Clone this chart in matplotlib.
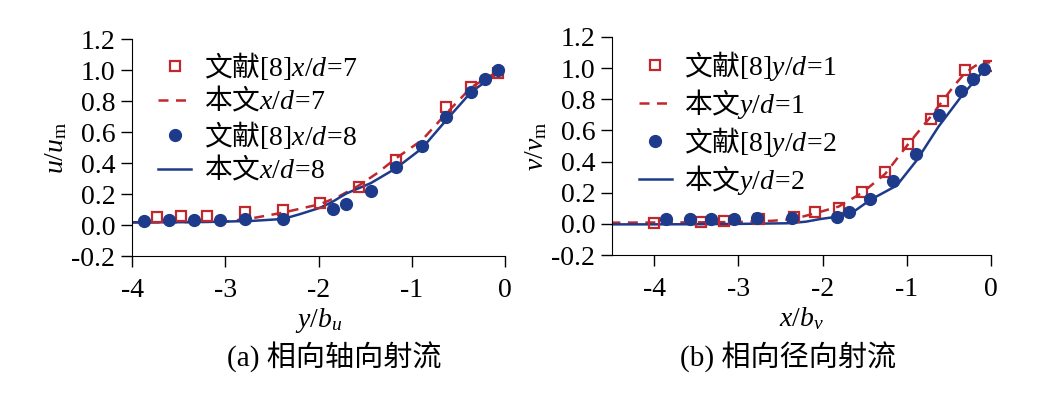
import matplotlib

matplotlib.use("Agg")
import matplotlib.pyplot as plt
from matplotlib.lines import Line2D

plt.rcParams["font.family"] = ["Liberation Serif", "Noto Sans CJK SC"]
plt.rcParams["mathtext.fontset"] = "custom"
plt.rcParams["mathtext.rm"] = "Liberation Serif"
plt.rcParams["mathtext.it"] = "Liberation Serif:italic"
plt.rcParams["axes.unicode_minus"] = False

RED = "#c1272d"
BLUE = "#1e3a8a"

# (a) axial jets
a_ref7_x = [-3.73, -3.47, -3.2, -2.79, -2.38, -1.98, -1.57, -1.17, -0.63, -0.36, -0.08]
a_ref7_y = [0.054, 0.058, 0.058, 0.086, 0.097, 0.14, 0.247, 0.419, 0.759, 0.888, 0.983]
a_ref8_x = [-3.87, -3.6, -3.33, -3.06, -2.79, -2.38, -1.84, -1.70, -1.44, -1.17, -0.89,
            -0.63, -0.36, -0.22, -0.08]
a_ref8_y = [0.028, 0.03, 0.03, 0.03, 0.039, 0.039, 0.103, 0.135, 0.217, 0.376, 0.512,
            0.699, 0.86, 0.94, 1.0]
a_sim7_x = [-4.0, -3.5, -3.0, -2.7, -2.38, -2.2, -1.98, -1.78, -1.57, -1.37, -1.17,
            -0.89, -0.63, -0.36, -0.08]
a_sim7_y = [0.017, 0.018, 0.022, 0.045, 0.08, 0.105, 0.135, 0.185, 0.254, 0.335, 0.43,
            0.548, 0.72, 0.89, 0.99]
a_sim8_x = [-4.0, -3.5, -3.06, -2.7, -2.38, -2.2, -1.98, -1.85, -1.70, -1.44, -1.17,
            -0.89, -0.63, -0.36, -0.08]
a_sim8_y = [0.017, 0.018, 0.021, 0.027, 0.039, 0.07, 0.112, 0.15, 0.204, 0.27, 0.366,
            0.495, 0.677, 0.86, 0.98]

# (b) radial jets
b_ref1_x = [-4.0, -3.44, -3.17, -2.75, -2.345, -2.09, -1.81, -1.53, -1.257, -0.99, -0.714,
            -0.57, -0.31, -0.03]
b_ref1_y = [0.004, 0.01, 0.021, 0.031, 0.046, 0.079, 0.1, 0.203, 0.332, 0.514, 0.673,
            0.79, 0.986, 1.011]
b_ref2_x = [-3.86, -3.58, -3.32, -3.05, -2.78, -2.365, -1.83, -1.69, -1.435, -1.16, -0.89,
            -0.623, -0.354, -0.215, -0.08]
b_ref2_y = [0.029, 0.031, 0.031, 0.031, 0.038, 0.04, 0.042, 0.074, 0.158, 0.276, 0.45,
            0.696, 0.855, 0.932, 0.996]
b_sim1_x = [-4.52, -4.0, -3.5, -3.0, -2.6, -2.345, -2.09, -1.81, -1.53, -1.257, -0.99,
            -0.714, -0.445, -0.31, -0.2, -0.128, -0.01]
b_sim1_y = [0.008, 0.009, 0.01, 0.012, 0.02, 0.031, 0.068, 0.111, 0.2, 0.321, 0.508,
            0.69, 0.883, 0.968, 1.01, 1.033, 1.037]
b_sim2_x = [-4.52, -4.0, -3.5, -3.0, -2.42, -2.2, -2.03, -1.83, -1.63, -1.435, -1.12,
            -0.88, -0.623, -0.354, -0.08]
b_sim2_y = [-0.003, -0.003, -0.002, 0.0, 0.004, 0.014, 0.031, 0.046, 0.079, 0.154, 0.246,
            0.41, 0.625, 0.818, 0.99]

FS = 20
CJK = ["Noto Sans CJK SC"]

fig = plt.figure(figsize=(10.37, 3.93), dpi=100)
ax1 = fig.add_axes([0.1273, 0.3486, 0.3597, 0.552])
ax2 = fig.add_axes([0.5902, 0.351, 0.3655, 0.555])


def style(ax, xlim, xticks):
    ax.set_xlim(*xlim)
    ax.set_ylim(-0.2, 1.2)
    ax.set_xticks(xticks)
    ax.set_xticklabels([str(t) for t in xticks])
    ax.set_yticks([-0.2, 0.0, 0.2, 0.4, 0.6, 0.8, 1.0, 1.2])
    ax.set_yticklabels(["-0.2", "0.0", "0.2", "0.4", "0.6", "0.8", "1.0", "1.2"])
    for s in ("top", "right"):
        ax.spines[s].set_visible(False)
    ax.spines["left"].set_bounds(-0.2, 1.2)
    ax.spines["bottom"].set_bounds(*xlim)
    ax.tick_params(labelsize=FS, length=8, width=1.0, direction="out", pad=4)
    ax.tick_params(axis="x", pad=8)


def draw(ax, sx1, sy1, sx2, sy2, rx1, ry1, rx2, ry2):
    ax.plot(sx1, sy1, "--", color=RED, lw=1.8, dashes=(4, 3))
    ax.plot(sx2, sy2, "-", color=BLUE, lw=1.8)
    ax.plot(rx1, ry1, "s", mfc="none", mec=RED, mew=1.6, ms=7.5)
    ax.plot(rx2, ry2, "o", color=BLUE, ms=8.5)


def legend(ax, var, n1, n2, anchor, spacing):
    handles = [
        Line2D([], [], ls="none", marker="s", mfc="none", mec=RED, mew=1.6, ms=7.5),
        Line2D([], [], ls="--", color=RED, lw=1.8, dashes=(4, 3)),
        Line2D([], [], ls="none", marker="o", color=BLUE, ms=8.5),
        Line2D([], [], ls="-", color=BLUE, lw=1.8),
    ]
    labels = [
        rf"文献$\mathrm{{[8]}}{var}\!\mathrm{{=}}\!\mathrm{{{n1}}}$",
        rf"本文${var}\!\mathrm{{=}}\!\mathrm{{{n1}}}$",
        rf"文献$\mathrm{{[8]}}{var}\!\mathrm{{=}}\!\mathrm{{{n2}}}$",
        rf"本文${var}\!\mathrm{{=}}\!\mathrm{{{n2}}}$",
    ]
    ax.legend(handles, labels, loc="upper left", bbox_to_anchor=anchor, frameon=False,
              prop={"family": CJK, "size": FS}, handlelength=1.2, handletextpad=0.45,
              labelspacing=spacing, borderaxespad=0, borderpad=0)


# panel (a)
draw(ax1, a_sim7_x, a_sim7_y, a_sim8_x, a_sim8_y, a_ref7_x, a_ref7_y, a_ref8_x, a_ref8_y)
style(ax1, (-4, 0), [-4, -3, -2, -1, 0])
ax1.set_ylabel(r"$u/u_{\rm m}$", fontsize=FS, labelpad=2)
ax1.set_xlabel(r"$y/b_u$", fontsize=FS, labelpad=2)
legend(ax1, "x/d", 7, 8, (0.07, 0.945), 0.12)

# panel (b)
draw(ax2, b_sim1_x, b_sim1_y, b_sim2_x, b_sim2_y, b_ref1_x, b_ref1_y, b_ref2_x, b_ref2_y)
style(ax2, (-4.5, 0), [-4, -3, -2, -1, 0])
ax2.set_ylabel(r"$v/v_{\rm m}$", fontsize=FS, labelpad=2)
ax2.set_xlabel(r"$x/b_v$", fontsize=FS, labelpad=2)
legend(ax2, "y/d", 1, 2, (0.07, 0.945), 0.14)

fig.text(0.322, 0.09, "(a) 相向轴向射流", ha="center", va="center", fontsize=21)
fig.text(0.76, 0.09, "(b) 相向径向射流", ha="center", va="center", fontsize=21)

fig.savefig("out.png", dpi=100)
plt.close(fig)
